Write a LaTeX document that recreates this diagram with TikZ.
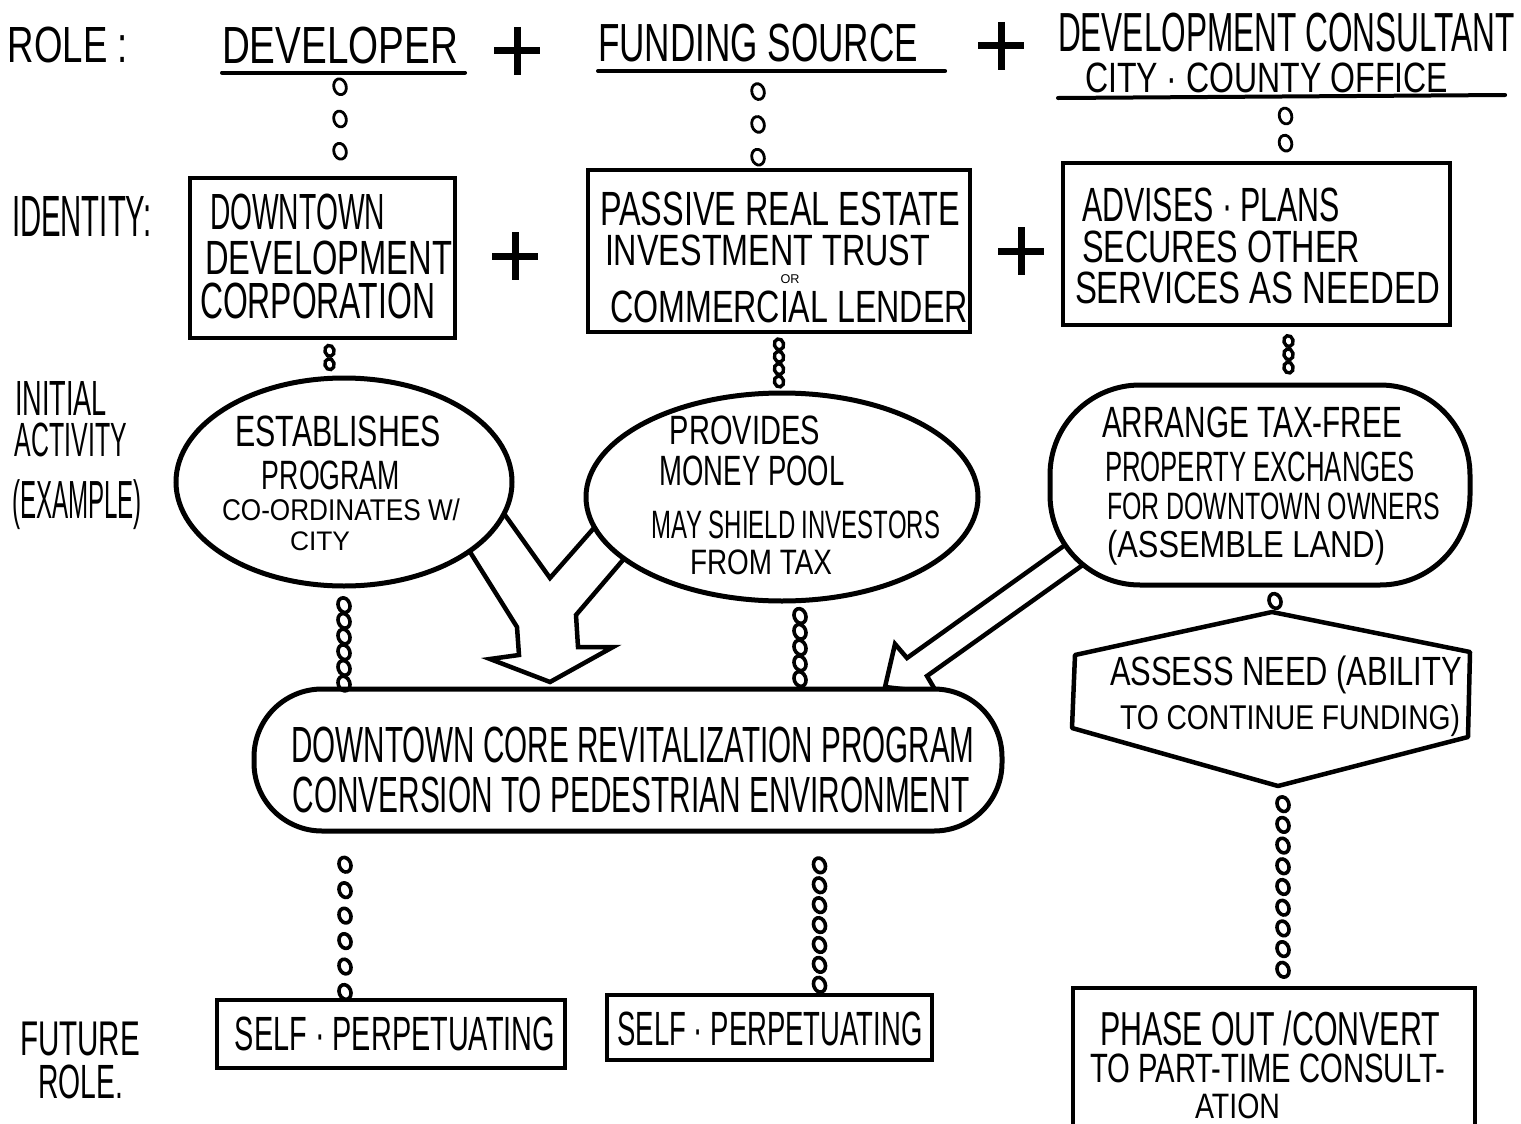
\documentclass[tikz,border=0pt]{standalone}
\usepackage{fontspec}
\usepackage{graphicx}
\newfontfamily\hand{Liberation Sans}
\usetikzlibrary{shapes.geometric,decorations.markings,calc}

% lettering squeezed to a given width and total height (in pt)
\newcommand\hw[3]{\resizebox*{#1pt}{#2pt}{\hand #3}}

\tikzset{
  lbl/.style={inner sep=0pt, outer sep=0pt},
  boxframe/.style={draw, line width=4.5pt, inner sep=0pt, fill=white},
  bubble/.style={draw, ellipse, line width=5pt, fill=white, inner sep=0pt},
  blob/.style={draw, rectangle, line width=5pt, fill=white, inner sep=0pt},
  beadchain/.style args={#1:#2:#3}{decorate, decoration={markings,
      mark=between positions #1 and #2 step #3 with {\draw[line width=3.6pt, rotate=20] (0,0) ellipse (7.5pt and 5.8pt);}}},
  thinbeadchain/.style args={#1:#2:#3}{decorate, decoration={markings,
      mark=between positions #1 and #2 step #3 with {\draw[line width=2.8pt, rotate=15] (0,0) ellipse (8pt and 6.2pt);}}},
  smallbeadchain/.style args={#1:#2:#3}{decorate, decoration={markings,
      mark=between positions #1 and #2 step #3 with {\draw[line width=3.4pt, rotate=15] (0,0) ellipse (5.5pt and 4.6pt);}}},
  plussign/.style={minimum width=46pt, minimum height=48pt, inner sep=0pt,
      path picture={\draw[line width=7pt]
        (path picture bounding box.north) -- (path picture bounding box.south)
        (path picture bounding box.west) -- (path picture bounding box.east);}},
  hrule/.style={line width=4pt, line cap=round},
  hollowarrow/.style={draw, line width=4.5pt, fill=white, line join=miter},
}

\begin{document}
\begin{tikzpicture}[x=1pt,y=-1pt]
\useasboundingbox (0,0) rectangle (1521,1124);
\fill[white] (0,0) rectangle (1521,1124);

% ---------- hollow arrows (drawn first, bubbles cover their ends) ----------
\draw[hollowarrow] (450,520) -- (517,627) -- (519,655) -- (490,659) -- (550,682)
  -- (613,647) -- (578,647) -- (576,615) -- (640,540) -- (615,504) -- (550,578)
  -- (485,487) -- cycle;
\draw[hollowarrow] (1100,520) -- (907,658) -- (895,644) -- (885,687) -- (937,693)
  -- (927,676) -- (1115,542) -- cycle;

% ---------- row: role ----------
\node[lbl,anchor=west] (role) at (8,45) {\hw{120}{36}{ROLE :}};
\node[lbl,anchor=west] (dev) at (222,46) {\hw{236}{37}{DEVELOPER}};
\node[plussign] (p1) at (517,51) {};
\node[lbl,anchor=west] (fund) at (598,43) {\hw{320}{38}{FUNDING SOURCE}};
\node[plussign] (p2) at (1001,46) {};
\node[lbl,anchor=west] (cons) at (1058,33) {\hw{457}{39}{DEVELOPMENT CONSULTANT}};
\node[lbl,anchor=west] (city) at (1085,78) {\hw{363}{30}{CITY · COUNTY OFFICE}};

\draw[hrule] ([yshift=-8pt]dev.south west) -- ([xshift=7pt,yshift=-8pt]dev.south east);
\draw[hrule] ([yshift=-9pt]fund.south west) -- ([xshift=27pt,yshift=-9pt]fund.south east);
\draw[hrule] ([xshift=-27pt,yshift=-5pt]city.south west) -- ([xshift=57pt,yshift=-2pt]city.south east);

% ---------- row: identity ----------
\node[lbl,anchor=west] (idl) at (12,216) {\hw{140}{40}{IDENTITY:}};

\node[boxframe, minimum width=265pt, minimum height=160pt] (b1) at (322.5,258) {};
\node[lbl,anchor=west] (b1a) at (210,212) {\hw{175}{36}{DOWNTOWN}};
\node[lbl,anchor=west] (b1b) at (205,258) {\hw{247}{34}{DEVELOPMENT}};
\node[lbl,anchor=west] (b1c) at (200,301) {\hw{235}{36}{CORPORATION}};

\node[plussign] (p3) at (515,256) {};

\node[boxframe, minimum width=382pt, minimum height=162pt] (b2) at (779,251) {};
\node[lbl,anchor=west] (b2a) at (600,209) {\hw{360}{34}{PASSIVE REAL ESTATE}};
\node[lbl,anchor=west] (b2b) at (605,250) {\hw{325}{31}{INVESTMENT TRUST}};
\node[lbl] (b2c) at (790,279) {\hw{19}{9}{OR}};
\node[lbl,anchor=west] (b2d) at (610,307) {\hw{358}{32}{COMMERCIAL LENDER}};

\node[plussign] (p4) at (1021,251) {};

\node[boxframe, minimum width=387pt, minimum height=162pt] (b3) at (1256.5,244) {};
\node[lbl,anchor=west] (b3a) at (1082,205) {\hw{258}{34}{ADVISES · PLANS}};
\node[lbl,anchor=west] (b3b) at (1082,247) {\hw{278}{32}{SECURES OTHER}};
\node[lbl,anchor=west] (b3c) at (1075,288) {\hw{365}{32}{SERVICES AS NEEDED}};

% ---------- row: initial activity ----------
\node[lbl,anchor=west] (ia1) at (15,398) {\hw{92}{34}{INITIAL}};
\node[lbl,anchor=west] (ia2) at (15,440) {\hw{112}{34}{ACTIVITY}};
\node[lbl,anchor=west] (ia3) at (12,505) {\hw{130}{50}{(EXAMPLE)}};

\node[bubble, minimum width=336pt, minimum height=208pt] (e1) at (344,482) {};
\node[lbl] (e1a) at (338,431) {\hw{205}{31}{ESTABLISHES}};
\node[lbl] (e1b) at (331,475) {\hw{138}{29}{PROGRAM}};
\node[lbl] (e1c) at (341,510) {\hw{238}{22}{CO-ORDINATES W/}};
\node[lbl] (e1d) at (320,541) {\hw{60}{19}{CITY}};

\node[bubble, minimum width=392pt, minimum height=208pt] (e2) at (782,497) {};
\node[lbl] (e2a) at (745,430) {\hw{150}{29}{PROVIDES}};
\node[lbl] (e2b) at (752,471) {\hw{185}{30}{MONEY POOL}};
\node[lbl] (e2c) at (796,525) {\hw{288}{28}{MAY SHIELD INVESTORS}};
\node[lbl] (e2d) at (761,562) {\hw{142}{25}{FROM TAX}};

\node[blob, rounded corners=90pt, minimum width=420pt, minimum height=200pt] (e3) at (1260,485) {};
\node[lbl,anchor=west] (e3a) at (1102,422) {\hw{300}{31}{ARRANGE TAX-FREE}};
\node[lbl,anchor=west] (e3b) at (1105,467) {\hw{310}{30}{PROPERTY EXCHANGES}};
\node[lbl,anchor=west] (e3c) at (1107,506) {\hw{333}{27}{FOR DOWNTOWN OWNERS}};
\node[lbl,anchor=west] (e3d) at (1107,548) {\hw{278}{35}{(ASSEMBLE LAND)}};

% ---------- central program ----------
\node[blob, rounded corners=68pt, minimum width=748pt, minimum height=142pt] (M) at (628,760) {};
\node[lbl] (Ma) at (633,745) {\hw{683}{36}{DOWNTOWN CORE REVITALIZATION PROGRAM}};
\node[lbl] (Mb) at (631,795) {\hw{677}{36}{CONVERSION TO PEDESTRIAN ENVIRONMENT}};

% ---------- assessment ----------
\coordinate (Htop) at (1272,612);
\coordinate (Hbot) at (1278,786);
\draw[line width=4.5pt, line join=round] (Htop) -- (1470,652) -- (1468,737) -- (Hbot)
  -- (1072,728) -- (1075,655) -- cycle;
\node[lbl,anchor=west] (Ha) at (1110,675) {\hw{352}{38}{ASSESS NEED (ABILITY}};
\node[lbl,anchor=west] (Hb) at (1120,721) {\hw{340}{32}{TO CONTINUE FUNDING)}};

% ---------- row: future role ----------
\node[lbl,anchor=west] (fr1) at (20,1039) {\hw{120}{34}{FUTURE}};
\node[lbl,anchor=west] (fr2) at (38,1082) {\hw{85}{34}{ROLE.}};

\node[boxframe, minimum width=348pt, minimum height=68pt] (A) at (391,1034) {};
\node[lbl] (Aa) at (395,1034) {\hw{320}{34}{SELF · PERPETUATING}};

\node[boxframe, minimum width=325pt, minimum height=65pt] (B) at (769.5,1027.5) {};
\node[lbl] (Ba) at (770,1029) {\hw{305}{34}{SELF · PERPETUATING}};

\coordinate (Ctop) at (1283,988);
\draw[line width=4.5pt] (1073,1124) |- (Ctop) -| (1475,1124);
\node[lbl,anchor=west] (Ca) at (1100,1028) {\hw{340}{35}{PHASE OUT /CONVERT}};
\node[lbl,anchor=west] (Cb) at (1090,1068) {\hw{355}{29}{TO PART-TIME CONSULT-}};
\node[lbl,anchor=west] (Cc) at (1195,1106) {\hw{85}{25}{ATION}};

% ---------- bead chains ----------
\path[thinbeadchain=0.2:0.8:0.29] (dev.south) -- (dev.south |- b1.north);
\path[thinbeadchain=0.28:0.92:0.31] (fund.south) -- (fund.south |- b2.north);
\path[thinbeadchain=0.34:0.8:0.4] ([xshift=19pt]city.south) -- ([xshift=19pt]city.south |- b3.north);

\path[smallbeadchain=0.3:0.75:0.38] ([xshift=7pt]b1.south) -- ([xshift=7pt]b1.south |- e1.north);
\path[smallbeadchain=0.18:0.86:0.22] (b2.south) -- (b2.south |- e2.north);
\path[smallbeadchain=0.25:0.75:0.24] ([xshift=32pt]b3.south) -- ([xshift=32pt]b3.south |- e3.north);

\path[beadchain=0.17:0.98:0.16] (e1.south) -- (e1.south |- M.north);
\path[beadchain=0.15:0.92:0.19] ([xshift=18pt]e2.south) -- ([xshift=18pt]e2.south |- M.north);
\path[beadchain=0.55:0.6:1] ([xshift=15pt]e3.south) -- ([xshift=3pt]Htop);

\path[beadchain=0.19:0.98:0.155] ([xshift=-46pt]A.north |- M.south) -- ([xshift=-46pt]A.north);
\path[beadchain=0.2:0.97:0.125] ([xshift=50pt]B.north |- M.south) -- ([xshift=50pt]B.north);
\path[beadchain=0.09:0.93:0.1025] ([xshift=5pt]Hbot) -- (Ctop);

\end{tikzpicture}
\end{document}
